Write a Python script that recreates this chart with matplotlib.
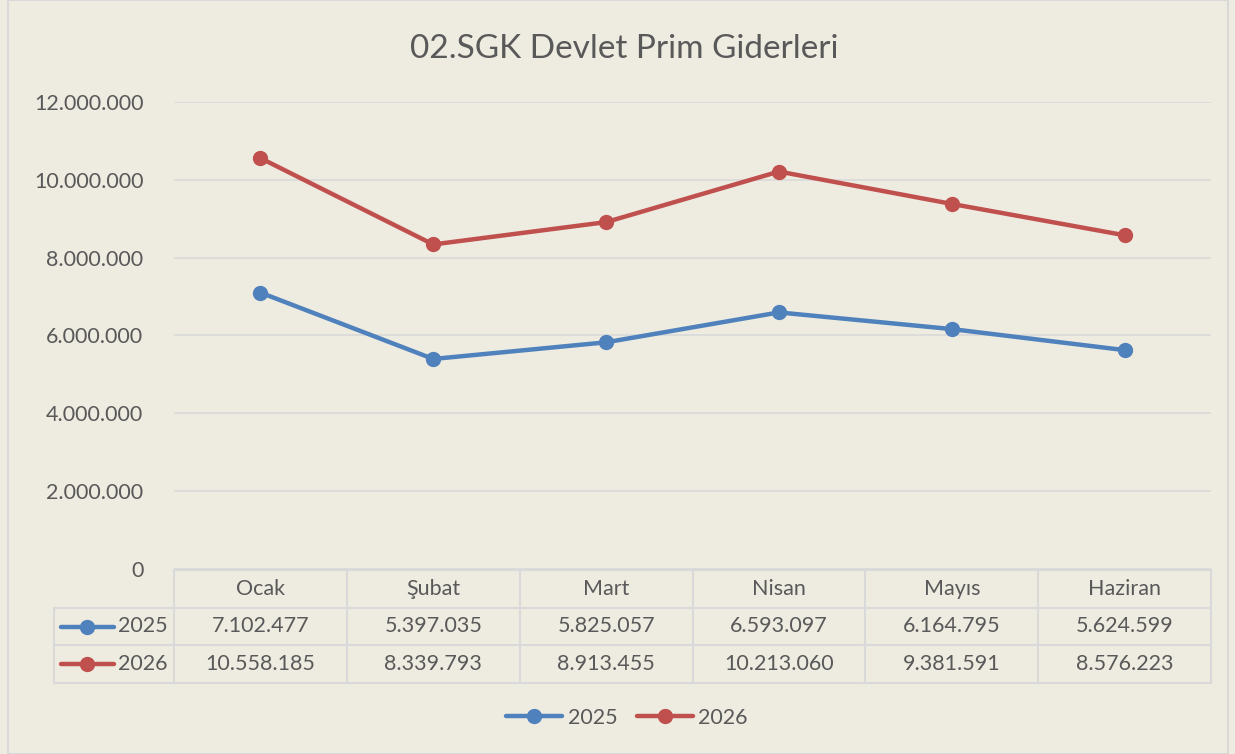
import numpy as np
import matplotlib.pyplot as plt

plt.rcParams['font.family'] = ['Lato', 'DejaVu Sans']

months = ["Ocak", "Şubat", "Mart", "Nisan", "Mayıs", "Haziran"]
years = ["2025", "2026"]
v2025 = [7102477, 5397035, 5825057, 6593097, 6164795, 5624599]
v2026 = [10558185, 8339793, 8913455, 10213060, 9381591, 8576223]
yticks = [0, 2000000, 4000000, 6000000, 8000000, 10000000, 12000000]

bg = "#EEEBE0"
txt = "#595959"
grid = "#D9D9D9"
colors = ["#4F81BD", "#C0504D"]
fs = 15.5

W, H = 1235, 754
fig = plt.figure(figsize=(W / 100, H / 100), dpi=100, facecolor=bg)


def box(x0, y0, x1, y1):
    return [x0 / W, 1 - y1 / H, (x1 - x0) / W, (y1 - y0) / H]


def fmt(v):
    return f"{v:,}".replace(",", ".")


# outer border
fig.patches.append(plt.Rectangle((8 / W, 0), (1228 - 8) / W, (750 - 4) / H + 0.01,
                                 transform=fig.transFigure, fill=False,
                                 edgecolor=grid, lw=1.5))

fig.text(624 / W, 1 - 49 / H, "02.SGK Devlet Prim Giderleri", ha="center",
         va="center", fontsize=24, color=txt)

# main plot
ax = fig.add_axes(box(174, 102, 1211, 569))
ax.set_facecolor(bg)
x = np.arange(len(months))
series = [v2025, v2026]
for vals, c in zip(series, colors):
    ax.plot(x, vals, color=c, lw=3.2, marker="o", ms=10, solid_capstyle="round")
ax.set_xlim(-0.5, len(months) - 0.5)
ax.set_ylim(0, 12000000)
ax.set_yticks(yticks)
ax.set_yticklabels([fmt(v) for v in yticks], color=txt, fontsize=fs)
ax.tick_params(axis="y", length=0, pad=22)
ax.set_xticks([])
ax.grid(axis="y", color=grid, lw=1.2)
ax.set_axisbelow(True)
for s in ax.spines.values():
    s.set_visible(False)

# data table
tx = fig.add_axes(box(54, 570, 1211, 683))
left = -0.5 - 120 / 172.8
tx.set_xlim(left, len(months) - 0.5)
tx.set_ylim(3, 0)
tx.axis("off")
tx.patch.set_alpha(0)
col_edges = np.arange(len(months) + 1) - 0.5
lw = 1.5
for e in col_edges:
    tx.plot([e, e], [0, 3], color=grid, lw=lw, clip_on=False)
tx.plot([left, left], [1, 3], color=grid, lw=lw, clip_on=False)
tx.plot([-0.5, len(months) - 0.5], [0, 0], color=grid, lw=lw, clip_on=False)
for r in [1, 2, 3]:
    tx.plot([left, len(months) - 0.5], [r, r], color=grid, lw=lw, clip_on=False)
for i, m in enumerate(months):
    tx.text(i, 0.5, m, ha="center", va="center", fontsize=fs, color=txt)
px = 1 / 172.8
for r, (yr, vals, c) in enumerate(zip(years, series, colors)):
    for i, v in enumerate(vals):
        tx.text(i, r + 1.5, fmt(v), ha="center", va="center", fontsize=fs, color=txt)
    tx.plot([left + 7 * px, left + 60 * px], [r + 1.5, r + 1.5], color=c, lw=3.2,
            solid_capstyle="round", clip_on=False)
    tx.plot([left + 33 * px], [r + 1.5], color=c, marker="o", ms=10, clip_on=False)
    tx.text(left + 64 * px, r + 1.5, yr, ha="left", va="center", fontsize=fs, color=txt)

# legend
handles = [plt.Line2D([], [], color=c, lw=3.2, marker="o", ms=10,
                      solid_capstyle="round") for c in colors]
fig.legend(handles, years, loc="center", bbox_to_anchor=(627 / W, 1 - 718 / H),
           ncol=2, frameon=False, fontsize=fs, labelcolor=txt, handlelength=2.6,
           handletextpad=0.25, columnspacing=0.9)

fig.savefig("out.png", dpi=100, facecolor=bg)
